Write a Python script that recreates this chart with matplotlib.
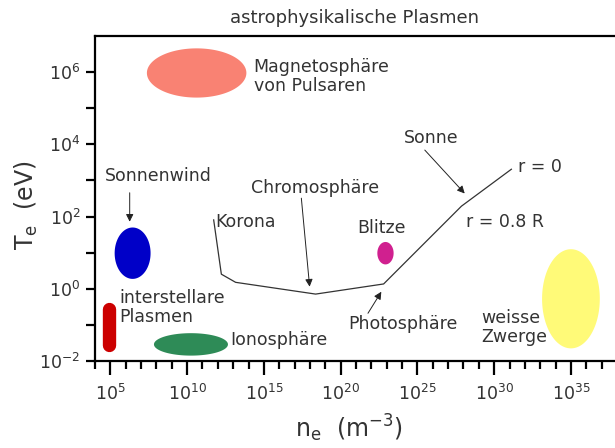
import matplotlib
matplotlib.use("Agg")
import matplotlib.pyplot as plt
from matplotlib.ticker import NullFormatter
import numpy as np

plt.rcParams['font.family'] = ['DejaVu Sans']
plt.rcParams['mathtext.fontset'] = 'custom'
plt.rcParams['mathtext.rm'] = 'DejaVu Sans'
plt.rcParams['mathtext.it'] = 'DejaVu Sans'

TXT = '#333333'

# plasma regions as ellipses in log10 space: centre and half-axes (decades)
blob_names = ['Magnetosphäre', 'Sonnenwind', 'Ionosphäre', 'Blitze', 'weisse Zwerge']
blob_lx = [10.62, 6.45, 10.25, 22.92, 35.0]     # log10 n_e (m^-3)
blob_ly = [5.97, 0.99, -1.53, 0.99, -0.27]      # log10 T_e (eV)
blob_rx = [3.24, 1.17, 2.41, 0.53, 1.88]
blob_ry = [0.68, 0.71, 0.31, 0.31, 1.37]
blob_col = ['#f98273', '#0000c8', '#2e8b57', '#d0208f', '#fffa78']

# interstellar plasma (rounded bar)
ism_lx = 4.89
ism_ly = [-1.55, -0.56]

# solar profile: corona -> chromosphere -> photosphere -> core
sun_lx = [11.73, 12.23, 13.16, 18.37, 22.8, 27.87, 31.12]
sun_ly = [1.91, 0.41, 0.185, -0.14, 0.14, 2.29, 3.31]

fig = plt.figure(figsize=(6.15, 4.48), dpi=100)
ax = fig.add_axes([95 / 615, 1 - 361.4 / 448, 1 - 95 / 615, (361.4 - 35.7) / 448])
ax.set_xscale('log')
ax.set_yscale('log')
ax.set_xlim(1e4, 10 ** 37.87)
ax.set_ylim(1e-2, 1e7)

t = np.linspace(0, 2 * np.pi, 200)
for cx, cy, rx, ry, c in zip(blob_lx, blob_ly, blob_rx, blob_ry, blob_col):
    ax.fill(10 ** (cx + rx * np.cos(t)), 10 ** (cy + ry * np.sin(t)), color=c, lw=0)

ax.plot([10 ** ism_lx] * 2, 10 ** np.array(ism_ly), color='#cc0000', lw=9.6,
        solid_capstyle='round')

ax.plot(10 ** np.array(sun_lx), 10 ** np.array(sun_ly), color='#333333', lw=0.9)

# arrows (tail -> tip), log10 coordinates
arrows = [((6.26, 2.66), (6.26, 1.86)),
          ((17.44, 2.51), (17.98, 0.064)),
          ((21.78, -0.67), (22.65, -0.075)),
          ((25.48, 3.84), (28.08, 2.64))]
for (x0, y0), (x1, y1) in arrows:
    ax.annotate('', xy=(10 ** x1, 10 ** y1), xytext=(10 ** x0, 10 ** y0),
                arrowprops=dict(arrowstyle='-|>', color='#222222', lw=0.7,
                                mutation_scale=11, shrinkA=0, shrinkB=0))

fs = 12.5
labels = [
    (14.34, 5.88, 'Magnetosphäre\nvon Pulsaren', 'left'),
    (4.67, 3.12, 'Sonnenwind', 'left'),
    (5.61, -0.51, 'interstellare\nPlasmen', 'left'),
    (12.78, -1.41, 'Ionosphäre', 'left'),
    (11.86, 1.86, 'Korona', 'left'),
    (18.31, 2.78, 'Chromosphäre', 'center'),
    (22.67, 1.68, 'Blitze', 'center'),
    (25.91, 4.16, 'Sonne', 'center'),
    (31.55, 3.38, 'r = 0', 'left'),
    (28.19, 1.86, 'r = 0.8 R', 'left'),
    (20.48, -0.97, 'Photosphäre', 'left'),
    (29.17, -1.06, 'weisse\nZwerge', 'left'),
]
for lx, ly, s, ha in labels:
    ax.text(10 ** lx, 10 ** ly, s, ha=ha, va='center', fontsize=fs, color=TXT,
            linespacing=1.05)

# axes styling
ax.spines['right'].set_visible(False)
for sp in ['left', 'bottom', 'top']:
    ax.spines[sp].set_linewidth(1.6)
    ax.spines[sp].set_color('black')

xmaj = [1e5, 1e10, 1e15, 1e20, 1e25, 1e30, 1e35]
xlab = [r'$10^{5}$', r'$10^{10}$', r'$10^{15}$', r'$10^{20}$', r'$10^{25}$',
        r'$10^{30}$', r'$10^{35}$']
xmin = [10.0 ** k for k in range(4, 38) if k % 5 != 0]
ymaj = [1e-2, 1e0, 1e2, 1e4, 1e6]
ylab = [r'$10^{-2}$', r'$10^{0}$', r'$10^{2}$', r'$10^{4}$', r'$10^{6}$']
ymin = [1e-1, 1e1, 1e3, 1e5]

ax.set_xticks(xmaj)
ax.set_xticklabels(xlab)
ax.set_xticks(xmin, minor=True)
ax.set_yticks(ymaj)
ax.set_yticklabels(ylab)
ax.set_yticks(ymin, minor=True)
ax.xaxis.set_minor_formatter(NullFormatter())
ax.yaxis.set_minor_formatter(NullFormatter())
ax.tick_params(axis='x', which='major', direction='out', length=10, width=1.6,
               labelsize=12.5, labelcolor=TXT, pad=6)
ax.tick_params(axis='x', which='minor', direction='out', length=6, width=1.6)
ax.tick_params(axis='y', which='both', direction='out', length=6.5, width=1.6,
               labelsize=12.5, labelcolor=TXT, pad=4)

ax.set_title('astrophysikalische Plasmen', fontsize=13, color=TXT, pad=9)
ax.set_ylabel(r'T$_\mathrm{e}$  (eV)', fontsize=17, color=TXT, labelpad=4)
fig.text(349 / 615, 1 - 428 / 448, r'n$_\mathrm{e}$  (m$^{-3}$)', fontsize=17,
         color=TXT, ha='center', va='center')
ax.yaxis.set_label_coords(-0.105, 0.48)

fig.savefig('out.png', dpi=100)
